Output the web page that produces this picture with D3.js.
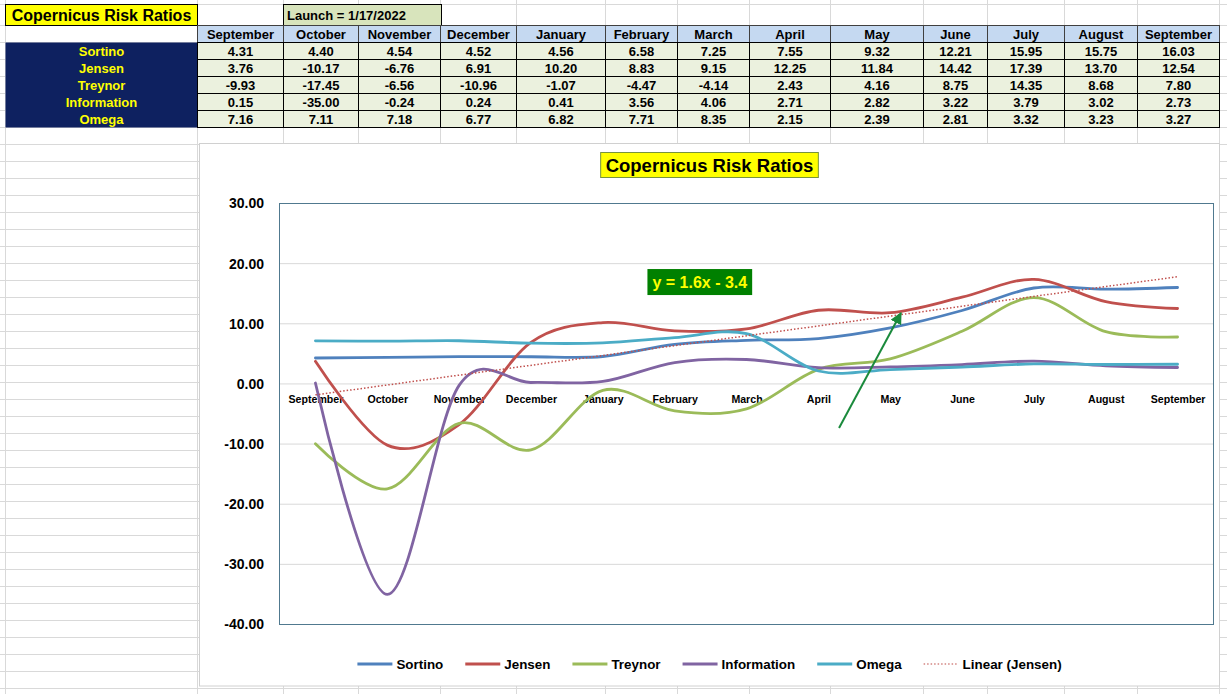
<!DOCTYPE html>
<html><head><meta charset="utf-8">
<script src="https://cdn.jsdelivr.net/npm/d3@7"></script>
<style>
html,body{margin:0;padding:0;background:#fff;}
svg{display:block;font-family:"Liberation Sans",Arial,sans-serif;}
</style>
</head><body>
<svg id="c" width="1227" height="694"></svg>
<script>
// ---------- data ----------
const months = ["September","October","November","December","January","February","March","April","May","June","July","August","September"];
const seriesNames = ["Sortino","Jensen","Treynor","Information","Omega"];
const sortino = [4.31,4.40,4.54,4.52,4.56,6.58,7.25,7.55,9.32,12.21,15.95,15.75,16.03];
const jensen = [3.76,-10.17,-6.76,6.91,10.20,8.83,9.15,12.25,11.84,14.42,17.39,13.70,12.54];
const treynor = [-9.93,-17.45,-6.56,-10.96,-1.07,-4.47,-4.14,2.43,4.16,8.75,14.35,8.68,7.80];
const information = [0.15,-35.00,-0.24,0.24,0.41,3.56,4.06,2.71,2.82,3.22,3.79,3.02,2.73];
const omega = [7.16,7.11,7.18,6.77,6.82,7.71,8.35,2.15,2.39,2.81,3.32,3.23,3.27];
const yTicks = [-40,-30,-20,-10,0,10,20,30];
const tableTitle = "Copernicus Risk Ratios";
const launchText = "Launch = 1/17/2022";
const chartTitle = "Copernicus Risk Ratios";
const trendLabel = "y = 1.6x - 3.4";
const trendName = "Linear (Jensen)";

// ---------- styles / layout ----------
const colors = ["#4f81bd","#c0504d","#9bbb59","#8064a2","#4bacc6"];
const seriesValues = [sortino, jensen, treynor, information, omega];
const colEdges = [5.5,197.5,283.5,358.5,440.5,516.5,605.5,677.5,749.5,830.5,923.5,987.5,1064.5,1137.5,1219.5];
const rowH = 17;
const headTop = 25.5, dataTop = 42.5;
const chartBox = {x:199.5, y:143.5, w:1020, h:542.5};
const plot = {l:279.5, r:1213.5, t:203.5, b:624.5};
const fmt = v => v.toFixed(2);

const svg = d3.select("#c");

// spreadsheet grid
const grid = svg.append("g").attr("stroke","#d9d9d9").attr("stroke-width",1);
colEdges.forEach(x => grid.append("line").attr("x1",x).attr("x2",x).attr("y1",0).attr("y2",694));
const rowLines = [4.5]; for (let y = headTop; y < 694; y += rowH) rowLines.push(y);
rowLines.forEach(y => grid.append("line").attr("x1",0).attr("x2",1227).attr("y1",y).attr("y2",y));

// ---------- table ----------
const tbl = svg.append("g").attr("font-weight","bold");
tbl.append("rect").attr("x",5.5).attr("y",4.5).attr("width",192).attr("height",21).attr("fill","#ffff00").attr("stroke","#000");
tbl.append("text").attr("x",101.5).attr("y",20.5).attr("text-anchor","middle").attr("font-size",16).text(tableTitle);
tbl.append("rect").attr("x",283.5).attr("y",4.5).attr("width",158).attr("height",21).attr("fill","#d8e4bc").attr("stroke","#000");
tbl.append("text").attr("x",287).attr("y",20).attr("font-size",13).text(launchText);

months.forEach((m,i) => {
  const x0 = colEdges[i+1], x1 = colEdges[i+2];
  tbl.append("rect").attr("x",x0).attr("y",headTop).attr("width",x1-x0).attr("height",rowH).attr("fill","#c5d9f1").attr("stroke","#404040");
  tbl.append("text").attr("x",(x0+x1)/2).attr("y",headTop+13.5).attr("text-anchor","middle").attr("font-size",13).text(m);
});
tbl.append("rect").attr("x",colEdges[0]).attr("y",dataTop).attr("width",colEdges[1]-colEdges[0]).attr("height",rowH*5).attr("fill","#0e2160");
seriesNames.forEach((name,r) => {
  const y0 = dataTop + r*rowH;
  tbl.append("text").attr("x",(colEdges[0]+colEdges[1])/2).attr("y",y0+13.5).attr("text-anchor","middle").attr("font-size",13).attr("fill","#ffff00").text(name);
  seriesValues[r].forEach((v,i) => {
    const x0 = colEdges[i+1], x1 = colEdges[i+2];
    tbl.append("rect").attr("x",x0).attr("y",y0).attr("width",x1-x0).attr("height",rowH).attr("fill","#ebf1de").attr("stroke","#000");
    tbl.append("text").attr("x",(x0+x1)/2).attr("y",y0+13.5).attr("text-anchor","middle").attr("font-size",13).text(fmt(v));
  });
});

// ---------- chart ----------
svg.append("rect").attr("x",chartBox.x).attr("y",chartBox.y).attr("width",chartBox.w).attr("height",chartBox.h).attr("fill","#fff").attr("stroke","#d0d0d0");
const cx = chartBox.x + chartBox.w/2;

// title
const tg = svg.append("g");
const tt = tg.append("text").attr("x",cx).attr("y",172).attr("text-anchor","middle").attr("font-size",18.5).attr("font-weight","bold").text(chartTitle);
const tw = tt.node().getComputedTextLength();
tg.insert("rect","text").attr("x",cx-tw/2-5).attr("y",152.5).attr("width",tw+10).attr("height",25).attr("fill","#ffff00").attr("stroke","#77933c");

const x = d3.scaleLinear().domain([-0.5, months.length-0.5]).range([plot.l, plot.r]);
const y = d3.scaleLinear().domain([-40,30]).range([plot.b, plot.t]);

// gridlines
svg.append("g").selectAll("line").data(yTicks).join("line")
  .attr("x1",plot.l).attr("x2",plot.r).attr("y1",d=>y(d)).attr("y2",d=>y(d)).attr("stroke","#d9d9d9");

// y axis labels
const ya = svg.append("g").attr("transform",`translate(${264+9},0)`)
  .call(d3.axisLeft(y).tickValues(yTicks).tickFormat(fmt).tickSize(0).tickPadding(9));
ya.select(".domain").remove();
ya.selectAll("text").attr("font-size",14).attr("font-weight","bold").attr("fill","#000").attr("font-family","Liberation Sans, Arial, sans-serif");

// plot border
svg.append("rect").attr("x",plot.l).attr("y",plot.t).attr("width",plot.r-plot.l).attr("height",plot.b-plot.t).attr("fill","none").attr("stroke","#50798f");

// x axis labels at zero
const xa = svg.append("g").attr("transform",`translate(0,${y(0)})`)
  .call(d3.axisBottom(x).tickValues(d3.range(months.length)).tickFormat(i=>months[i]).tickSize(0));
xa.select(".domain").remove();
xa.selectAll("text").attr("y",19).attr("dy",null).attr("font-size",10.6).attr("font-weight","bold").attr("fill","#000")
  .attr("font-family","Liberation Sans, Arial, sans-serif");

// series
const line = d3.line().x((d,i)=>x(i)).y(d=>y(d)).curve(d3.curveCardinal.tension(0));
svg.append("g").selectAll("path").data(seriesValues).join("path")
  .attr("d",line).attr("fill","none").attr("stroke",(d,i)=>colors[i]).attr("stroke-width",2.8).attr("stroke-linecap","round");

// linear trend of Jensen (x = 1..n)
const n = jensen.length;
const xs = d3.range(1,n+1);
const mx = d3.mean(xs), my = d3.mean(jensen);
const slope = d3.sum(xs,(xv,i)=>(xv-mx)*(jensen[i]-my)) / d3.sum(xs,xv=>(xv-mx)*(xv-mx));
const icpt = my - slope*mx;
svg.append("line").attr("x1",x(0)).attr("y1",y(slope*1+icpt)).attr("x2",x(n-1)).attr("y2",y(slope*n+icpt))
  .attr("stroke","#c0504d").attr("stroke-width",1.5).attr("stroke-dasharray","1.5 2");

// trend equation label
const eq = {i:5.35, v:16.94};
const eqG = svg.append("g");
const eqT = eqG.append("text").attr("x",x(eq.i)).attr("y",y(eq.v)+6).attr("text-anchor","middle").attr("font-size",16).attr("font-weight","bold").attr("fill","#ffff00").text(trendLabel);
const ew = eqT.node().getComputedTextLength();
eqG.insert("rect","text").attr("x",x(eq.i)-ew/2-5).attr("y",y(eq.v)-13).attr("width",ew+10).attr("height",26).attr("fill","#008000");

// arrow annotation
const arrow = {from:{i:7.288, v:-7.33}, to:{i:8.15, v:11.79}};
svg.append("defs").append("marker").attr("id","ah").attr("viewBox","0 0 10 10").attr("refX",9).attr("refY",5)
  .attr("markerWidth",6).attr("markerHeight",6).attr("orient","auto").attr("markerUnits","strokeWidth")
  .append("path").attr("d","M0,0 L10,5 L0,10 z").attr("fill","#1a8a3c");
svg.append("line").attr("x1",x(arrow.from.i)).attr("y1",y(arrow.from.v)).attr("x2",x(arrow.to.i)).attr("y2",y(arrow.to.v))
  .attr("stroke","#1a8a3c").attr("stroke-width",2).attr("marker-end","url(#ah)");

// legend
const legItems = seriesNames.map((s,i)=>({name:s, color:colors[i], dotted:false})).concat([{name:trendName,color:"#c0504d",dotted:true}]);
const lg = svg.append("g").attr("font-family","Liberation Sans, Arial, sans-serif").attr("font-weight","bold").attr("font-size",13.4);
const legY = 664;
const items = legItems.map(it => {
  const g = lg.append("g");
  g.append("line").attr("x1",0).attr("x2",35).attr("y1",legY).attr("y2",legY).attr("stroke",it.color)
    .attr("stroke-width",it.dotted?1.5:3).attr("stroke-dasharray",it.dotted?"1.5 2":null).attr("stroke-opacity",it.dotted?0.7:1);
  const t = g.append("text").attr("x",39).attr("y",legY+5).text(it.name);
  return {g, w: 39 + t.node().getComputedTextLength()};
});
const gap = 22;
const total = d3.sum(items,d=>d.w) + gap*(items.length-1);
let lx = cx - total/2;
items.forEach(d => { d.g.attr("transform",`translate(${lx},0)`); lx += d.w + gap; });
</script>
</body></html>
